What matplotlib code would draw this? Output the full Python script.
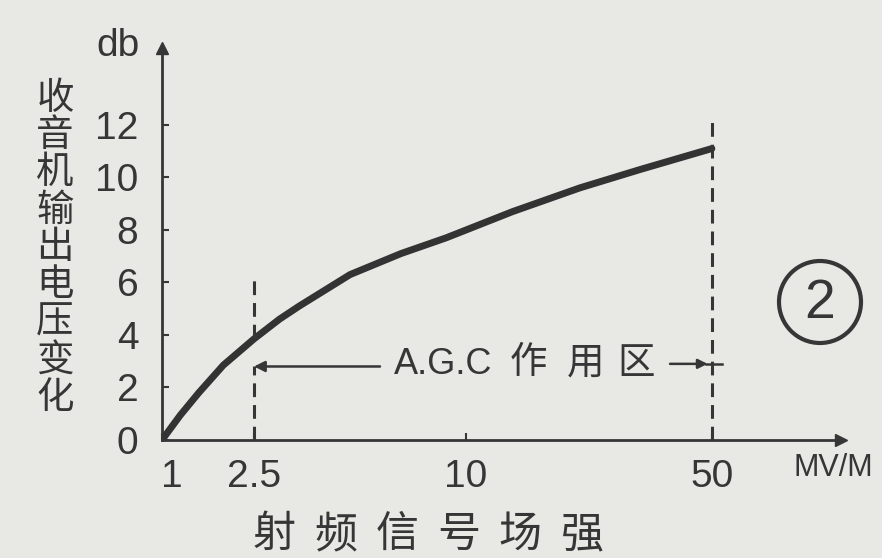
import numpy as np
import matplotlib.pyplot as plt
import matplotlib.transforms as mtransforms
from matplotlib.patches import Circle

# curve: field strength (MV/M) vs output change (db)
field = [1, 1.3, 1.6, 2.0, 2.5, 3.4, 4.1, 5.9, 7.7, 9.3, 17.6, 28.5, 38.3, 50]
db = [0, 0.95, 1.8, 2.85, 3.85, 4.6, 5.1, 6.3, 7.1, 7.7, 8.7, 9.6, 10.3, 11.1]

x_ticks = [1, 2.5, 10, 50]
x_labels = ["1", "2.5", "10", "50"]
y_ticks = [0, 2, 4, 6, 8, 10, 12]

agc_lo, agc_hi = 2.5, 50
ylabel_chars = list("收音机输出电压变化")
xlabel_chars = list("射频信号场强")

# the hand drawn axis is neither linear nor log: place the marked values where the drawing has them
knot_val = np.array([1, 2.5, 10, 50], float)
knot_pos = np.array([0, 92, 304, 550], float)
s_hi = (knot_pos[-1] - knot_pos[-2]) / (knot_val[-1] - knot_val[-2])
s_lo = (knot_pos[1] - knot_pos[0]) / (knot_val[1] - knot_val[0])


def fwd(v):
    v = np.asarray(v, float)
    out = np.interp(v, knot_val, knot_pos)
    out = np.where(v > knot_val[-1], knot_pos[-1] + (v - knot_val[-1]) * s_hi, out)
    out = np.where(v < knot_val[0], knot_pos[0] + (v - knot_val[0]) * s_lo, out)
    return out


def inv(p):
    p = np.asarray(p, float)
    out = np.interp(p, knot_pos, knot_val)
    out = np.where(p > knot_pos[-1], knot_val[-1] + (p - knot_pos[-1]) / s_hi, out)
    out = np.where(p < knot_pos[0], knot_val[0] + (p - knot_pos[0]) / s_lo, out)
    return out


W, H = 882, 558
ink = "#363636"
paper = "#e8e8e5"
num_font = ["Liberation Sans Narrow", "Liberation Sans", "DejaVu Sans"]
cjk_font = ["Noto Sans CJK SC", "DejaVu Sans"]

fig = plt.figure(figsize=(W / 100, H / 100), dpi=100, facecolor=paper)
ax = fig.add_axes([162 / W, 118 / H, (841 - 162) / W, (440 - 48) / H])
ax.set_facecolor("none")
ax.set_xscale("function", functions=(fwd, inv))
ax.set_xlim(1, 71)
ax.set_ylim(0, 14.93)

for side in ["top", "right"]:
    ax.spines[side].set_visible(False)
for side in ["left", "bottom"]:
    ax.spines[side].set_linewidth(2.0)
    ax.spines[side].set_color(ink)

# axis arrow heads
ax.plot([0], [1], marker="^", ms=9, color=ink, transform=ax.transAxes, clip_on=False)
ax.plot([1], [0], marker=">", ms=9, color=ink, transform=ax.transAxes, clip_on=False)

ax.set_yticks(y_ticks)
ax.set_yticklabels([str(v) for v in y_ticks], family=num_font, fontsize=28, color=ink)
ax.tick_params(axis="y", direction="in", length=5, width=1.5, color=ink, pad=17)
ax.set_xticks(x_ticks)
ax.set_xticklabels(x_labels, family=num_font, fontsize=28, color=ink)
ax.tick_params(axis="x", direction="in", length=5, width=1.5, color=ink, pad=14)
ax.minorticks_off()
# the "1" sits a little right of the origin in the drawing
first = ax.get_xticklabels()[0]
first.set_transform(first.get_transform() + mtransforms.ScaledTranslation(0.1, 0, fig.dpi_scale_trans))

ax.plot(field, db, color="#333333", lw=5, solid_capstyle="round", solid_joinstyle="round")

# dashed limits of the A.G.C range
dash = (0, (4.5, 2.6))
ax.plot([agc_lo, agc_lo], [0, 2.8], color=ink, lw=2.2, linestyle=dash)
ax.plot([agc_lo, agc_lo], [3.9, 6.1], color=ink, lw=2.2, linestyle=dash)
ax.plot([agc_hi, agc_hi], [0, 12.1], color=ink, lw=2.2, linestyle=dash)

ax.annotate("", xy=(agc_lo, 2.8), xytext=(6.96, 2.8),
            arrowprops=dict(arrowstyle="-|>", lw=1.8, color=ink, mutation_scale=16,
                            shrinkA=0, shrinkB=0))
ax.annotate("", xy=(49.3, 2.9), xytext=(43.2, 2.9),
            arrowprops=dict(arrowstyle="-|>", lw=1.8, color=ink, mutation_scale=14,
                            shrinkA=0, shrinkB=0))
ax.plot([49, 51.6], [2.9, 2.9], color=ink, lw=1.8)


def px(x, y):
    return x / W, 1 - y / H


fig.text(*px(394, 365), "A.G.C", family=num_font, fontsize=26, color=ink,
         ha="left", va="center")
for ch, cx in zip("作用区", [528, 586, 636]):
    fig.text(*px(cx, 363), ch, family=cjk_font, fontsize=27, color=ink,
             ha="center", va="center")

fig.text(*px(118, 46), "db", family=num_font, fontsize=28, color=ink,
         ha="center", va="center")
fig.text(*px(833, 468), "MV/M", family=num_font, fontsize=22, color=ink,
         ha="center", va="center")

for i, ch in enumerate(ylabel_chars):
    fig.text(*px(55, 98 + i * 37.4), ch, family=cjk_font, fontsize=27, color=ink,
             ha="center", va="center")
for i, ch in enumerate(xlabel_chars):
    fig.text(*px(274 + i * 61.6, 535), ch, family=cjk_font, fontsize=31, color=ink,
             ha="center", va="center")

# circled figure number
fig.patches.append(Circle((8.20, (H - 302) / 100), 0.41, transform=fig.dpi_scale_trans,
                          fill=False, lw=3, edgecolor=ink))
fig.text(*px(820, 304), "2", family=num_font, fontsize=40, color=ink,
         ha="center", va="center")

fig.savefig("out.png", dpi=100, facecolor=paper)
